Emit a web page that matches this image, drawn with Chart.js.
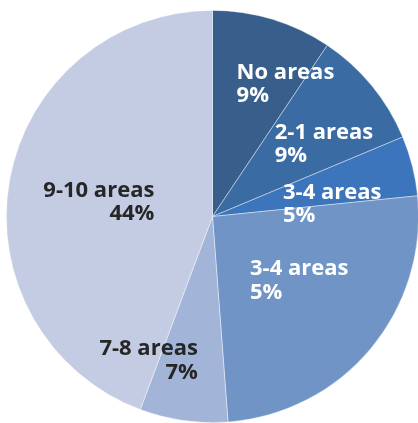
<!DOCTYPE html>
<html>
<head>
<meta charset="utf-8">
<script src="https://cdn.jsdelivr.net/npm/chart.js@4"></script>
<style>
  html, body { margin: 0; padding: 0; background: #fff; overflow: hidden; }
  #wrap { width: 420px; height: 423px; position: relative; }
</style>
</head>
<body>
<div id="wrap"><canvas id="pie"></canvas></div>
<script>
// --- DATA ---
const categories = ['No areas', '2-1 areas', '3-4 areas', '3-4 areas', '7-8 areas', '9-10 areas'];
const shares = [9.4, 9.3, 4.7, 25.4, 6.9, 44.3];          // slice sizes
const percentLabels = ['9%', '9%', '5%', '5%', '7%', '44%']; // printed labels

// --- STYLE ---
const sliceColors = ['#385e8b', '#3a6ba2', '#3c75bc', '#7194c6', '#a2b4d7', '#c3cce2'];
const textColors = ['#fff', '#fff', '#fff', '#fff', '#262626', '#262626'];
// label anchor as fraction of radius from pie centre + text alignment
const labelSpots = [
    { fx: 0.117, fy: -0.668, align: 'left' },
    { fx: 0.302, fy: -0.377, align: 'left' },
    { fx: 0.342, fy: -0.087, align: 'left' },
    { fx: 0.182, fy: 0.284, align: 'left' },
    { fx: -0.071, fy: 0.673, align: 'right' },
    { fx: -0.282, fy: -0.096, align: 'right' }
];

const sliceLabels = {
    id: 'sliceLabels',
    afterDatasetsDraw(chart) {
        const arc = chart.getDatasetMeta(0).data[0];
        if (!arc) return;
        const { x, y, outerRadius } = arc.getProps(['x', 'y', 'outerRadius'], true);
        const ctx = chart.ctx;
        ctx.save();
        ctx.font = 'bold 22px "Open Sans"';
        ctx.textBaseline = 'alphabetic';
        categories.forEach((name, i) => {
            const s = labelSpots[i];
            const ax = x + s.fx * outerRadius;
            const ay = y + s.fy * outerRadius;
            ctx.fillStyle = textColors[i];
            ctx.textAlign = s.align;
            ctx.fillText(name, ax, ay);
            ctx.fillText(percentLabels[i], ax, ay + 23.5);
        });
        ctx.restore();
    }
};

new Chart(document.getElementById('pie'), {
    type: 'pie',
    data: {
        labels: categories,
        datasets: [{
            data: shares,
            backgroundColor: sliceColors,
            borderColor: 'rgba(255,255,255,0.55)',
            borderWidth: 0.75,
            hoverOffset: 0
        }]
    },
    options: {
        responsive: true,
        maintainAspectRatio: false,
        animation: false,
        layout: { padding: { left: 6, right: 1, top: 10, bottom: 0 } },
        plugins: {
            legend: { display: false },
            tooltip: { enabled: false }
        }
    },
    plugins: [sliceLabels]
});
</script>
</body>
</html>
